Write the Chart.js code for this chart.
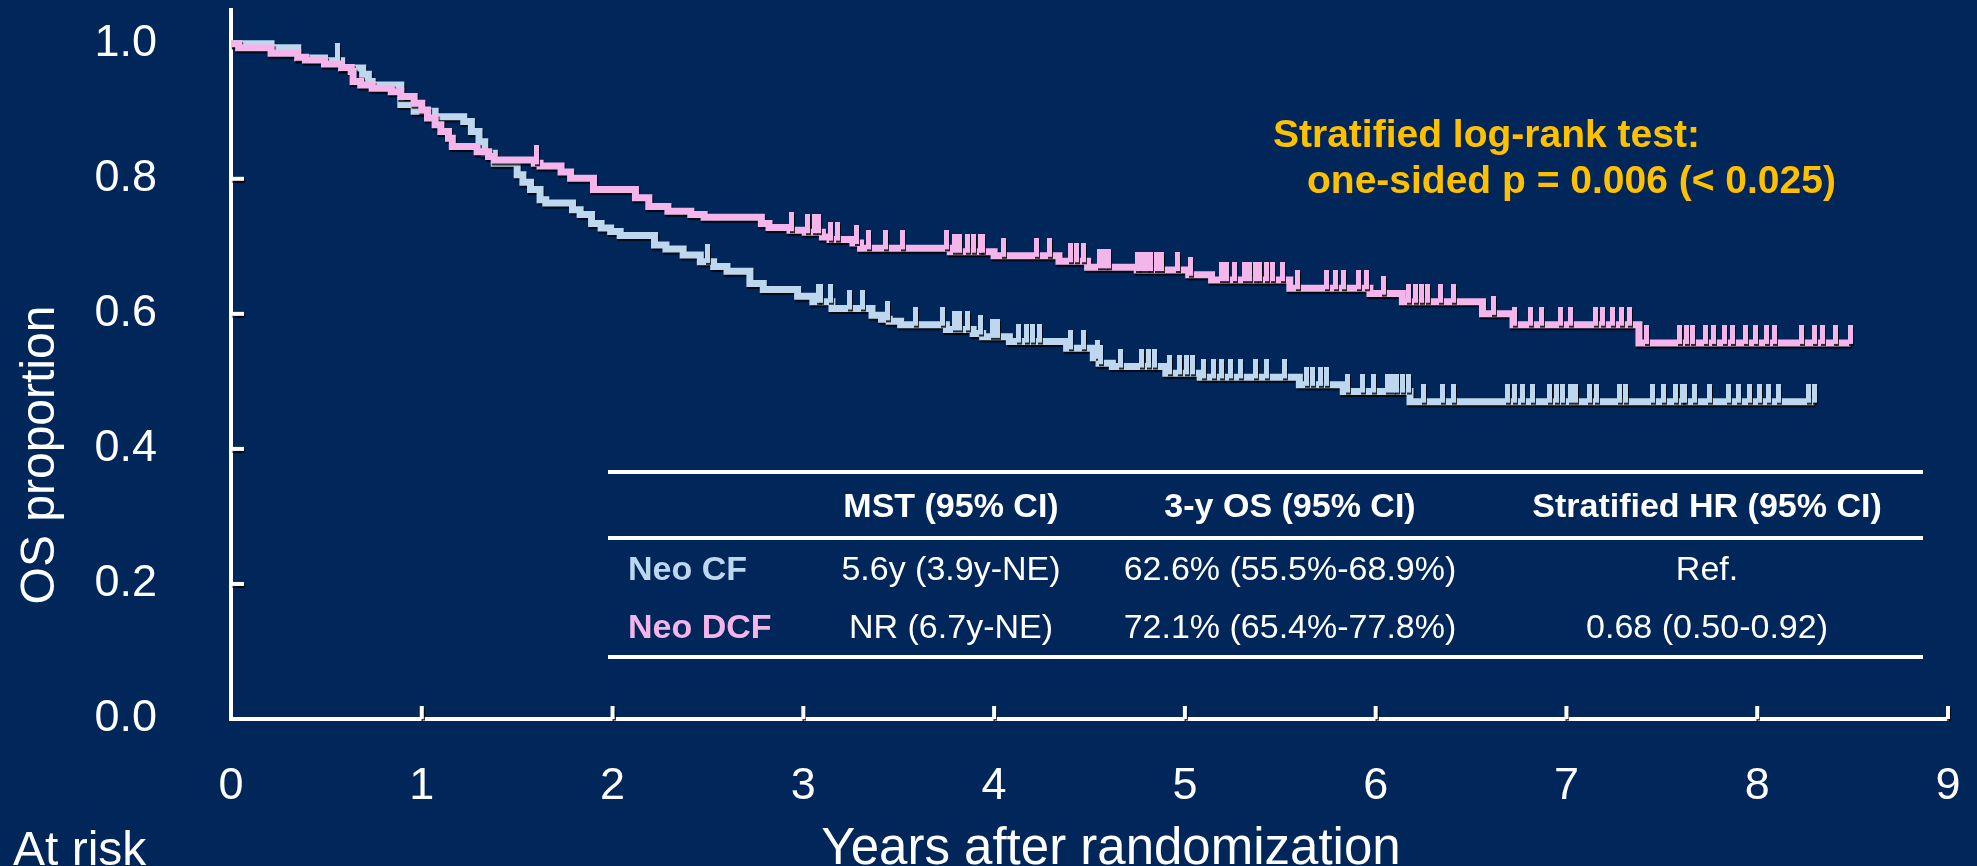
<!DOCTYPE html>
<html>
<head>
<meta charset="utf-8">
<script src="https://cdn.jsdelivr.net/npm/chart.js@4/dist/chart.umd.min.js"></script>
<style>
  html, body { margin: 0; padding: 0; background: #01265a; }
  #wrap { width: 1977px; height: 866px; position: relative; }
</style>
</head>
<body>
<div id="wrap"><canvas id="km" width="1977" height="866"></canvas></div>
<script>
// tick labels
const years = [0, 1, 2, 3, 4, 5, 6, 7, 8, 9];
const yTicks = [0, 0.2, 0.4, 0.6, 0.8, 1.0];

// Neo CF (blue) - step points, last point = end of follow-up
const cfTimes = [0, 0.21, 0.35, 0.49, 0.58, 0.69, 0.72, 0.74, 0.89, 0.96, 1.07, 1.22, 1.26, 1.30, 1.33, 1.38, 1.50, 1.53, 1.57, 1.62, 1.65, 1.79, 1.83, 1.89, 1.94, 1.99, 2.04, 2.22, 2.28, 2.37, 2.46, 2.53, 2.60, 2.72, 2.79, 2.97, 3.05, 3.15, 3.36, 3.41, 3.45, 3.51, 3.75, 3.89, 3.94, 4.08, 4.38, 4.52, 4.55, 4.62, 4.90, 5.08, 5.60, 5.83, 6.18, 8.30];
const cfSurv = [1.0, 0.994, 0.979, 0.975, 0.964, 0.955, 0.944, 0.939, 0.910, 0.900, 0.892, 0.885, 0.870, 0.855, 0.838, 0.823, 0.806, 0.795, 0.784, 0.769, 0.764, 0.754, 0.747, 0.734, 0.727, 0.722, 0.716, 0.702, 0.696, 0.687, 0.677, 0.670, 0.663, 0.645, 0.636, 0.626, 0.618, 0.608, 0.598, 0.592, 0.589, 0.584, 0.577, 0.571, 0.566, 0.559, 0.549, 0.535, 0.527, 0.522, 0.512, 0.506, 0.495, 0.485, 0.470, 0.470];
const cfCensor = [0.56, 2.50, 3.08, 3.09, 3.14, 3.24, 3.31, 3.44, 3.59, 3.73, 3.79, 3.82, 3.86, 3.93, 3.99, 4.02, 4.13, 4.17, 4.20, 4.24, 4.40, 4.47, 4.54, 4.56, 4.66, 4.77, 4.81, 4.84, 4.92, 4.97, 5.01, 5.04, 5.10, 5.15, 5.19, 5.24, 5.29, 5.37, 5.43, 5.52, 5.64, 5.67, 5.71, 5.74, 5.85, 5.93, 5.99, 6.06, 6.09, 6.11, 6.14, 6.17, 6.25, 6.35, 6.41, 6.69, 6.73, 6.77, 6.82, 6.91, 6.95, 6.98, 7.02, 7.05, 7.12, 7.16, 7.28, 7.31, 7.45, 7.51, 7.57, 7.61, 7.62, 7.67, 7.75, 7.85, 7.90, 7.96, 8.01, 8.06, 8.11, 8.27, 8.30];

// Neo DCF (pink)
const dcfTimes = [0, 0.04, 0.21, 0.35, 0.39, 0.49, 0.58, 0.63, 0.64, 0.68, 0.74, 0.84, 0.89, 0.96, 1.00, 1.03, 1.07, 1.10, 1.14, 1.16, 1.29, 1.35, 1.38, 1.59, 1.62, 1.73, 1.78, 1.90, 2.12, 2.19, 2.29, 2.41, 2.48, 2.78, 2.82, 2.93, 3.01, 3.10, 3.14, 3.26, 3.30, 3.77, 4.00, 4.34, 4.49, 4.75, 5.02, 5.14, 5.55, 5.97, 6.14, 6.56, 6.72, 7.38, 8.49];
const dcfSurv = [1.0, 0.994, 0.986, 0.980, 0.976, 0.970, 0.965, 0.959, 0.944, 0.939, 0.934, 0.929, 0.922, 0.912, 0.902, 0.890, 0.880, 0.870, 0.860, 0.848, 0.840, 0.833, 0.828, 0.823, 0.819, 0.810, 0.801, 0.784, 0.772, 0.759, 0.752, 0.747, 0.743, 0.734, 0.728, 0.724, 0.721, 0.714, 0.710, 0.705, 0.697, 0.692, 0.686, 0.678, 0.669, 0.665, 0.658, 0.650, 0.638, 0.630, 0.618, 0.600, 0.584, 0.557, 0.557];
const dcfCensor = [1.60, 2.94, 3.02, 3.06, 3.08, 3.14, 3.18, 3.28, 3.34, 3.43, 3.52, 3.75, 3.79, 3.82, 3.86, 3.89, 3.93, 3.94, 4.05, 4.22, 4.29, 4.40, 4.43, 4.47, 4.55, 4.58, 4.60, 4.75, 4.77, 4.80, 4.82, 4.85, 4.88, 4.96, 5.03, 5.19, 5.22, 5.26, 5.31, 5.34, 5.37, 5.39, 5.43, 5.46, 5.51, 5.59, 5.74, 5.79, 5.83, 5.91, 5.95, 6.04, 6.17, 6.21, 6.24, 6.27, 6.34, 6.41, 6.62, 6.73, 6.81, 6.87, 6.97, 7.02, 7.15, 7.19, 7.24, 7.29, 7.33, 7.42, 7.59, 7.63, 7.66, 7.73, 7.77, 7.83, 7.87, 7.94, 7.99, 8.05, 8.09, 8.23, 8.30, 8.34, 8.41, 8.49];

// text blocks
const testLines = ['Stratified log-rank test:', 'one-sided p = 0.006 (< 0.025)'];
const tableHead = ['MST (95% CI)', '3-y OS (95% CI)', 'Stratified HR (95% CI)'];
const tableRows = [
  ['Neo CF', '5.6y (3.9y-NE)', '62.6% (55.5%-68.9%)', 'Ref.'],
  ['Neo DCF', 'NR (6.7y-NE)', '72.1% (65.4%-77.8%)', '0.68 (0.50-0.92)'],
];

const BLUE = '#bdd7ee';
const PINK = '#f4b6ea';
const GOLD = '#ffc000';
const FONT = '"Liberation Sans", Arial, sans-serif';

function survAt(times, surv, t) {
  let s = surv[0];
  for (let i = 0; i < times.length; i++) if (times[i] <= t) s = surv[i];
  return s;
}

// small upward tick used as the censor point style
function censorMark(color) {
  const c = document.createElement('canvas');
  c.width = 5; c.height = 36;
  const g = c.getContext('2d');
  g.fillStyle = color;
  g.fillRect(0, 0, 5, 19);
  return c;
}

const kmPoints = (times, surv) => times.map((t, i) => ({ x: t, y: surv[i] }));
const censorPoints = (cens, times, surv) => cens.map(t => ({ x: t, y: survAt(times, surv, t) }));

const shadow = {
  id: 'shadow',
  beforeDatasetsDraw(chart) {
    const ctx = chart.ctx;
    ctx.save();
    ctx.shadowColor = 'rgba(0,0,0,0.8)';
    ctx.shadowOffsetX = 1;
    ctx.shadowOffsetY = 2;
    ctx.shadowBlur = 1;
  },
  afterDatasetsDraw(chart) {
    chart.ctx.restore();
  }
};

// inward tick marks + free text (titles, annotation, table)
const decorations = {
  id: 'decorations',
  beforeDatasetsDraw(chart) {
    const ctx = chart.ctx;
    const xs = chart.scales.x, ys = chart.scales.y;
    ctx.save();
    ctx.fillStyle = '#ffffff';
    years.filter(v => v > 0).forEach(v => {
      const px = xs.getPixelForValue(v);
      ctx.fillRect(px - 2, ys.bottom - 13, 4, 13);
    });
    yTicks.filter(v => v > 0).forEach(v => {
      const py = ys.getPixelForValue(v);
      ctx.fillRect(xs.left, py - 2, 13, 4);
    });
    ctx.restore();
  },
  afterDraw(chart) {
    const ctx = chart.ctx;
    ctx.save();
    ctx.fillStyle = '#ffffff';
    ctx.font = '51px ' + FONT;
    ctx.textBaseline = 'alphabetic';
    ctx.textAlign = 'center';
    ctx.fillText('Years after randomization', 1111, 864);
    ctx.font = '48px ' + FONT;
    ctx.textAlign = 'left';
    ctx.fillText('At risk', 13, 865);

    ctx.save();
    ctx.translate(54, 455);
    ctx.rotate(-Math.PI / 2);
    ctx.textAlign = 'center';
    ctx.fillText('OS proportion', 0, 0);
    ctx.restore();

    ctx.fillStyle = GOLD;
    ctx.font = 'bold 39px ' + FONT;
    ctx.textAlign = 'left';
    ctx.fillText(testLines[0], 1273, 147);
    ctx.fillText(testLines[1], 1307, 193);

    // table
    ctx.fillStyle = '#ffffff';
    [472, 538, 657].forEach(y => ctx.fillRect(608, y - 2, 1315, 4));
    const colX = [951, 1290, 1707];
    ctx.textAlign = 'center';
    ctx.font = 'bold 34px ' + FONT;
    tableHead.forEach((h, i) => ctx.fillText(h, colX[i], 517));
    const rowY = [580, 638];
    const rowColor = [BLUE, PINK];
    tableRows.forEach((row, r) => {
      ctx.textAlign = 'left';
      ctx.font = 'bold 34px ' + FONT;
      ctx.fillStyle = rowColor[r];
      ctx.fillText(row[0], 628, rowY[r]);
      ctx.textAlign = 'center';
      ctx.font = '34px ' + FONT;
      ctx.fillStyle = '#ffffff';
      row.slice(1).forEach((cell, i) => ctx.fillText(cell, colX[i], rowY[r]));
    });
    ctx.restore();
  }
};

new Chart(document.getElementById('km'), {
  type: 'line',
  data: {
    datasets: [
      { label: 'Neo DCF', data: kmPoints(dcfTimes, dcfSurv), borderColor: PINK, borderWidth: 7,
        stepped: true, pointRadius: 0, fill: false, order: 1 },
      { label: 'Neo DCF censored', type: 'scatter', data: censorPoints(dcfCensor, dcfTimes, dcfSurv),
        pointStyle: censorMark(PINK), order: 0 },
      { label: 'Neo CF', data: kmPoints(cfTimes, cfSurv), borderColor: BLUE, borderWidth: 7,
        stepped: true, pointRadius: 0, fill: false, order: 3 },
      { label: 'Neo CF censored', type: 'scatter', data: censorPoints(cfCensor, cfTimes, cfSurv),
        pointStyle: censorMark(BLUE), order: 2 },
    ]
  },
  options: {
    responsive: false,
    animation: false,
    layout: { padding: { left: 0, top: 10, right: 29, bottom: 0 } },
    plugins: { legend: { display: false }, tooltip: { enabled: false } },
    scales: {
      x: {
        type: 'linear', min: 0, max: 9,
        grid: { display: false },
        border: { display: true, color: '#ffffff', width: 4 },
        afterBuildTicks: s => { s.ticks = years.map(v => ({ value: v })); },
        afterFit: s => { s.height = 147; s.paddingLeft = 0; s.paddingRight = 0; },
        ticks: { color: '#ffffff', padding: 33, maxRotation: 0, font: { family: FONT, size: 45 },
          callback: v => String(v) }
      },
      y: {
        type: 'linear', min: 0, max: 1.05,
        grid: { display: false },
        border: { display: true, color: '#ffffff', width: 4 },
        afterBuildTicks: s => { s.ticks = yTicks.map(v => ({ value: v })); },
        afterFit: s => { s.width = 231; s.paddingTop = 0; s.paddingBottom = 0; },
        ticks: { color: '#ffffff', padding: 66, font: { family: FONT, size: 45 },
          callback: v => v.toFixed(1) }
      }
    }
  },
  plugins: [shadow, decorations]
});
</script>
</body>
</html>
